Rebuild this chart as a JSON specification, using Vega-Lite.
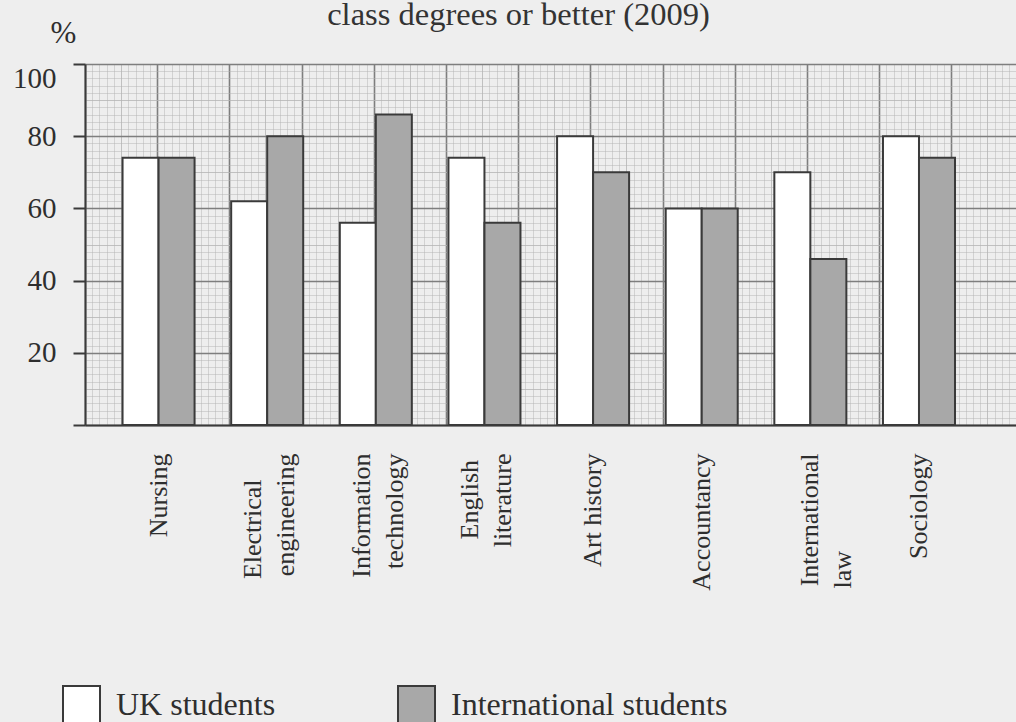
{
  "$schema": "https://vega.github.io/schema/vega-lite/v6.json",
  "autosize": {"type": "none"},
  "width": 931,
  "height": 361,
  "padding": {"left": 85, "top": 64, "right": 0, "bottom": 297},
  "background": "#eeeeee",
  "title": {
    "text": "class degrees or better (2009)",
    "font": "Liberation Serif",
    "fontSize": 32.5,
    "fontWeight": "normal",
    "color": "#333333",
    "anchor": "middle",
    "frame": "group",
    "baseline": "alphabetic",
    "offset": -40,
    "dx": -32
  },
  "config": {
    "view": {"stroke": null},
    "font": "Liberation Serif"
  },
  "data": {
    "values": [
      {"subject": "Nursing", "group": "UK students", "pct": 74},
      {"subject": "Nursing", "group": "International students", "pct": 74},
      {"subject": "Electrical engineering", "group": "UK students", "pct": 62},
      {"subject": "Electrical engineering", "group": "International students", "pct": 80},
      {"subject": "Information technology", "group": "UK students", "pct": 56},
      {"subject": "Information technology", "group": "International students", "pct": 86},
      {"subject": "English literature", "group": "UK students", "pct": 74},
      {"subject": "English literature", "group": "International students", "pct": 56},
      {"subject": "Art history", "group": "UK students", "pct": 80},
      {"subject": "Art history", "group": "International students", "pct": 70},
      {"subject": "Accountancy", "group": "UK students", "pct": 60},
      {"subject": "Accountancy", "group": "International students", "pct": 60},
      {"subject": "International law", "group": "UK students", "pct": 70},
      {"subject": "International law", "group": "International students", "pct": 46},
      {"subject": "Sociology", "group": "UK students", "pct": 80},
      {"subject": "Sociology", "group": "International students", "pct": 74}
    ]
  },
  "resolve": {"scale": {"x": "independent"}, "axis": {"x": "independent"}},
  "layer": [
    {
      "mark": {"type": "point", "opacity": 0},
      "encoding": {
        "x": {
          "datum": 0,
          "type": "quantitative",
          "scale": {"domain": [0, 257.9], "nice": false},
          "axis": {
            "orient": "top",
            "grid": true,
            "labels": false,
            "ticks": false,
            "domain": false,
            "title": null,
            "tickCount": 129,
            "labelOverlap": false,
            "gridColor": {"condition": {"test": "datum.value % 20 === 0", "value": "#7e7e7e"}, "value": "#b4b4b4"},
            "gridWidth": {"condition": {"test": "datum.value % 20 === 0", "value": 1.6}, "value": 0.8},
            "gridOpacity": {"condition": {"test": "datum.value % 10 === 0", "value": 1}, "value": 0.6}
          }
        }
      }
    },
    {
      "mark": {"type": "bar", "stroke": "#3a3a3a", "strokeWidth": 2},
      "encoding": {
        "x": {
          "field": "subject",
          "type": "nominal",
          "sort": null,
          "scale": {"paddingInner": 0.337, "paddingOuter": 0.4536, "align": 0.381},
          "axis": {
            "orient": "bottom",
            "title": null,
            "labelAngle": -90,
            "labelFont": "Liberation Serif",
            "labelFontSize": 26,
            "labelColor": "#2e2e2e",
            "labelLineHeight": 33,
            "labelPadding": 28,
            "labelOffset": {"condition": {"test": "indexof(datum.value, ' ') >= 0 && datum.value !== 'Art history' && datum.value !== 'International law'", "value": -14}, "value": 0},
            "ticks": false,
            "domainColor": "#3a3a3a",
            "domainWidth": 2,
            "labelExpr": "datum.value === 'Electrical engineering' ? ['Electrical\u00a0\u00a0\u00a0\u00a0\u200b', 'engineering'] : datum.value === 'Information technology' ? ['Information', 'technology'] : datum.value === 'English literature' ? ['English\u00a0\u200b', 'literature'] : datum.value === 'International law' ? ['International', 'law\u00a0\u00a0\u00a0\u00a0\u00a0\u00a0\u00a0\u00a0\u00a0\u00a0\u00a0\u00a0\u00a0\u00a0\u00a0\u200b'] : datum.label"
          }
        },
        "xOffset": {
          "field": "group",
          "type": "nominal",
          "sort": ["UK students", "International students"],
          "scale": {"paddingInner": 0, "paddingOuter": 0}
        },
        "y": {
          "field": "pct",
          "type": "quantitative",
          "scale": {"domain": [0, 100], "nice": false},
          "axis": {
            "title": "%",
            "titleAngle": 0,
            "titleFont": "Liberation Serif",
            "titleFontSize": 31,
            "titleFontWeight": "normal",
            "titleColor": "#2e2e2e",
            "titleX": -22,
            "titleY": -22,
            "titleAlign": "center",
            "titleBaseline": "alphabetic",
            "tickCount": 50,
            "grid": true,
            "labelOverlap": false,
            "labelFont": "Liberation Serif",
            "labelFontSize": 29,
            "labelColor": "#2e2e2e",
            "labelPadding": 17,
            "labelBaseline": {"condition": {"test": "datum.value === 100", "value": "top"}, "value": "middle"},
            "labelExpr": "datum.value % 20 === 0 && datum.value > 0 ? datum.label : ''",
            "tickSize": 12,
            "tickWidth": 2,
            "tickColor": "#3a3a3a",
            "tickOpacity": {"condition": {"test": "datum.value % 20 === 0", "value": 1}, "value": 0},
            "domainColor": "#3a3a3a",
            "domainWidth": 2,
            "gridColor": {"condition": {"test": "datum.value % 20 === 0", "value": "#7e7e7e"}, "value": "#b4b4b4"},
            "gridWidth": {"condition": {"test": "datum.value % 20 === 0", "value": 1.6}, "value": 0.8},
            "gridOpacity": {"condition": {"test": "datum.value % 10 === 0", "value": 1}, "value": 0.6}
          }
        },
        "color": {
          "field": "group",
          "type": "nominal",
          "scale": {"domain": ["UK students", "International students"], "range": ["#ffffff", "#a8a8a8"]},
          "legend": {
            "orient": "none",
            "legendX": -23,
            "legendY": 621,
            "direction": "horizontal",
            "title": null,
            "padding": 0,
            "symbolType": "square",
            "symbolSize": 1369,
            "symbolStrokeColor": "#3a3a3a",
            "symbolStrokeWidth": 2,
            "symbolOpacity": 1,
            "labelFont": "Liberation Serif",
            "labelFontSize": 32,
            "labelColor": "#2e2e2e",
            "labelOffset": 15,
            "columnPadding": 118,
            "labelLimit": 0
          }
        }
      }
    }
  ]
}
